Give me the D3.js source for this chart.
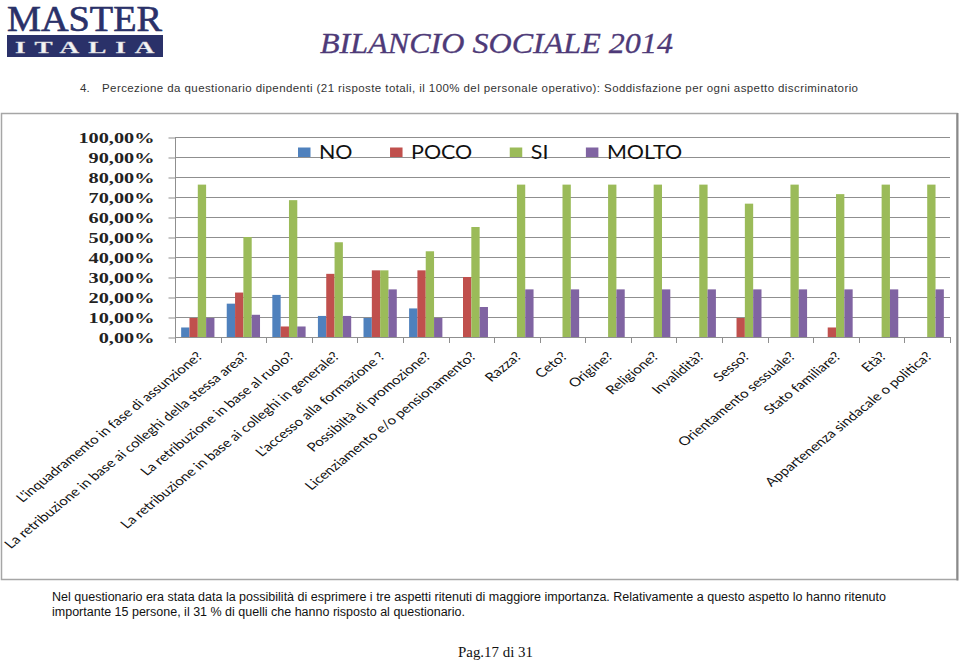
<!DOCTYPE html>
<html>
<head>
<meta charset="utf-8">
<script src="https://cdn.jsdelivr.net/npm/d3@7/dist/d3.min.js"></script>
<style>
  html, body { margin: 0; padding: 0; background: #fff; }
  svg { display: block; }
</style>
</head>
<body>
<svg id="chart" width="960" height="662"></svg>
<script>
// ---------------- data ----------------
const categories = [
  "L'inquadramento in fase di assunzione?",
  "La retribuzione in base ai colleghi della stessa area?",
  "La retribuzione in base al ruolo?",
  "La retribuzione in base ai colleghi in generale?",
  "L'accesso alla formazione ?",
  "Possibiltà di promozione?",
  "Licenziamento e/o pensionamento?",
  "Razza?",
  "Ceto?",
  "Origine?",
  "Religione?",
  "Invalidità?",
  "Sesso?",
  "Orientamento sessuale?",
  "Stato familiare?",
  "Età?",
  "Appartenenza sindacale o politica?"
];
const seriesNames = ["NO", "POCO", "SI", "MOLTO"];
const seriesColors = ["#4F81BD", "#C0504D", "#9BBB59", "#8064A2"];
const valuesNO    = [4.76, 16.67, 21.05, 10.53, 9.52, 14.29, 0, 0, 0, 0, 0, 0, 0, 0, 0, 0, 0];
const valuesPOCO  = [9.52, 22.22, 5.26, 31.58, 33.33, 33.33, 30, 0, 0, 0, 0, 0, 9.52, 0, 4.76, 0, 0];
const valuesSI    = [76.19, 50, 68.42, 47.37, 33.33, 42.86, 55, 76.19, 76.19, 76.19, 76.19, 76.19, 66.67, 76.19, 71.43, 76.19, 76.19];
const valuesMOLTO = [9.52, 11.11, 5.26, 10.53, 23.81, 9.52, 15, 23.81, 23.81, 23.81, 23.81, 23.81, 23.81, 23.81, 23.81, 23.81, 23.81];
const yTicks = [0, 10, 20, 30, 40, 50, 60, 70, 80, 90, 100];
const yTickLabels = ["0,00%", "10,00%", "20,00%", "30,00%", "40,00%", "50,00%", "60,00%", "70,00%", "80,00%", "90,00%", "100,00%"];

const seriesValues = [valuesNO, valuesPOCO, valuesSI, valuesMOLTO];

// ---------------- page ----------------
const svg = d3.select("#chart");
svg.append("rect").attr("width", 960).attr("height", 662).attr("fill", "#fff");

// Logo
svg.append("text").attr("x", 7).attr("y", 31.3)
  .attr("font-family", "Liberation Serif").attr("font-size", 35)
  .attr("fill", "#2a3169").attr("stroke", "#2a3169").attr("stroke-width", 0.6)
  .attr("textLength", 155).attr("lengthAdjust", "spacingAndGlyphs")
  .text("MASTER");
svg.append("rect").attr("x", 7).attr("y", 35).attr("width", 156).attr("height", 22).attr("fill", "#2a3169");
svg.append("text").attr("transform", "translate(15,53) scale(1.7,1)")
  .attr("font-family", "Liberation Serif").attr("font-weight", "bold").attr("font-size", 16)
  .attr("fill", "#f4f4f4").attr("stroke", "#c8c8d0").attr("stroke-width", 0.3)
  .attr("textLength", 82).attr("lengthAdjust", "spacing")
  .text("ITALIA");

// Title
svg.append("text").attr("x", 320).attr("y", 53)
  .attr("font-family", "Liberation Serif").attr("font-style", "italic").attr("font-size", 30)
  .attr("fill", "#4e3a78").attr("stroke", "#4e3a78").attr("stroke-width", 0.3)
  .attr("textLength", 353).attr("lengthAdjust", "spacingAndGlyphs")
  .text("BILANCIO SOCIALE 2014");

// Subtitle
svg.append("text").attr("x", 80).attr("y", 92)
  .attr("font-family", "Liberation Sans").attr("font-size", 11.5).attr("fill", "#333")
  .text("4.");
svg.append("text").attr("x", 102).attr("y", 92)
  .attr("font-family", "Liberation Sans").attr("font-size", 11.5).attr("fill", "#333")
  .attr("textLength", 756).attr("lengthAdjust", "spacing")
  .text("Percezione da questionario dipendenti (21 risposte totali, il 100% del personale operativo): Soddisfazione per ogni aspetto discriminatorio");

// Frame of the chart picture
svg.append("rect").attr("x", 1.5).attr("y", 113.5).attr("width", 955.5).attr("height", 466)
  .attr("fill", "none").attr("stroke", "#a6a6a6").attr("stroke-width", 1.5);
svg.append("line").attr("x1", 957.5).attr("x2", 957.5).attr("y1", 113).attr("y2", 580.5)
  .attr("stroke", "#8a8a8a").attr("stroke-width", 2);

// ---------------- chart ----------------
const plotLeft = 175, plotRight = 950, plotTop = 137, plotBottom = 337;
const x0 = d3.scaleBand().domain(categories).range([plotLeft, plotRight])
  .paddingInner(0.27).paddingOuter(0.135);
const x1 = d3.scaleBand().domain(seriesNames).range([0, x0.bandwidth()]);
const y = d3.scaleLinear().domain([0, 100]).range([plotBottom, plotTop]);

const g = svg.append("g");

// gridlines
g.selectAll("line.grid").data(yTicks).join("line").attr("class", "grid")
  .attr("x1", plotLeft).attr("x2", plotRight)
  .attr("y1", d => Math.round(y(d)) + 0.5).attr("y2", d => Math.round(y(d)) + 0.5)
  .attr("stroke", "#8f8f8f").attr("stroke-width", 1);

// y axis
const yAxis = d3.axisLeft(y).tickValues(yTicks).tickSize(7).tickFormat((d, i) => yTickLabels[i]);
const yg = g.append("g").attr("transform", `translate(${plotLeft + 0.5},0.5)`).call(yAxis);
yg.select(".domain").attr("stroke", "#8f8f8f").attr("d", `M0,${plotTop - 0.5}V${plotBottom - 0.5}`);
yg.selectAll(".tick line").attr("stroke", "#8f8f8f");
yg.selectAll(".tick text")
  .attr("x", null).attr("dy", null)
  .attr("transform", "translate(-21,4.5) scale(1.45,1)")
  .attr("font-family", "Liberation Serif").attr("font-weight", "bold").attr("font-size", 14)
  .attr("fill", "#222").attr("text-anchor", "end");

// x axis ticks at category boundaries
const boundaries = d3.range(categories.length + 1).map(i => plotLeft + i * x0.step());
g.selectAll("line.xtick").data(boundaries).join("line").attr("class", "xtick")
  .attr("x1", d => Math.round(d) + 0.5).attr("x2", d => Math.round(d) + 0.5)
  .attr("y1", plotBottom).attr("y2", plotBottom + 6)
  .attr("stroke", "#8f8f8f");

// bars
const barData = [];
categories.forEach((c, ci) => {
  seriesNames.forEach((s, si) => {
    barData.push({ c, s, v: seriesValues[si][ci], color: seriesColors[si] });
  });
});
g.selectAll("rect.bar").data(barData.filter(d => d.v > 0)).join("rect").attr("class", "bar")
  .attr("x", d => x0(d.c) + x1(d.s))
  .attr("width", x1.bandwidth())
  .attr("y", d => y(d.v))
  .attr("height", d => y(0) - y(d.v))
  .attr("fill", d => d.color);

// x labels
g.selectAll("text.xlab").data(categories).join("text").attr("class", "xlab")
  .attr("transform", d => `translate(${x0(d) + x0.bandwidth() / 2 + 2},354) scale(1.24,1) rotate(-45)`)
  .attr("text-anchor", "end").attr("dy", "0.35em")
  .attr("font-family", "Lato").attr("font-size", 12.2).attr("fill", "#111")
  .text(d => d);

// legend
const legend = g.append("g");
let lx = 298;
seriesNames.forEach((s, i) => {
  legend.append("rect").attr("x", lx).attr("y", 147.5).attr("width", 12.5).attr("height", 9.5)
    .attr("fill", seriesColors[i]);
  const t = legend.append("text")
    .attr("transform", `translate(${lx + 21},159) scale(1.1,1)`)
    .attr("font-family", "Lato").attr("font-size", 19.5).attr("fill", "#111")
    .text(s);
  const w = t.node().getComputedTextLength() * 1.1;
  lx = lx + 21 + w + 37.5;
});

// ---------------- text below ----------------
svg.append("text").attr("x", 52).attr("y", 601)
  .attr("font-family", "Liberation Sans").attr("font-size", 12).attr("fill", "#111")
  .attr("textLength", 834).attr("lengthAdjust", "spacingAndGlyphs")
  .text("Nel questionario era stata data la possibilità di esprimere i tre aspetti ritenuti di maggiore importanza. Relativamente a questo aspetto lo hanno ritenuto");
svg.append("text").attr("x", 52).attr("y", 616)
  .attr("font-family", "Liberation Sans").attr("font-size", 12).attr("fill", "#111")
  .attr("textLength", 413).attr("lengthAdjust", "spacingAndGlyphs")
  .text("importante 15 persone, il 31 % di quelli che hanno risposto al questionario.");
svg.append("text").attr("x", 458).attr("y", 657)
  .attr("font-family", "Liberation Serif").attr("font-size", 15.5).attr("fill", "#111")
  .attr("textLength", 75).attr("lengthAdjust", "spacingAndGlyphs")
  .text("Pag.17 di 31");
</script>
</body>
</html>
